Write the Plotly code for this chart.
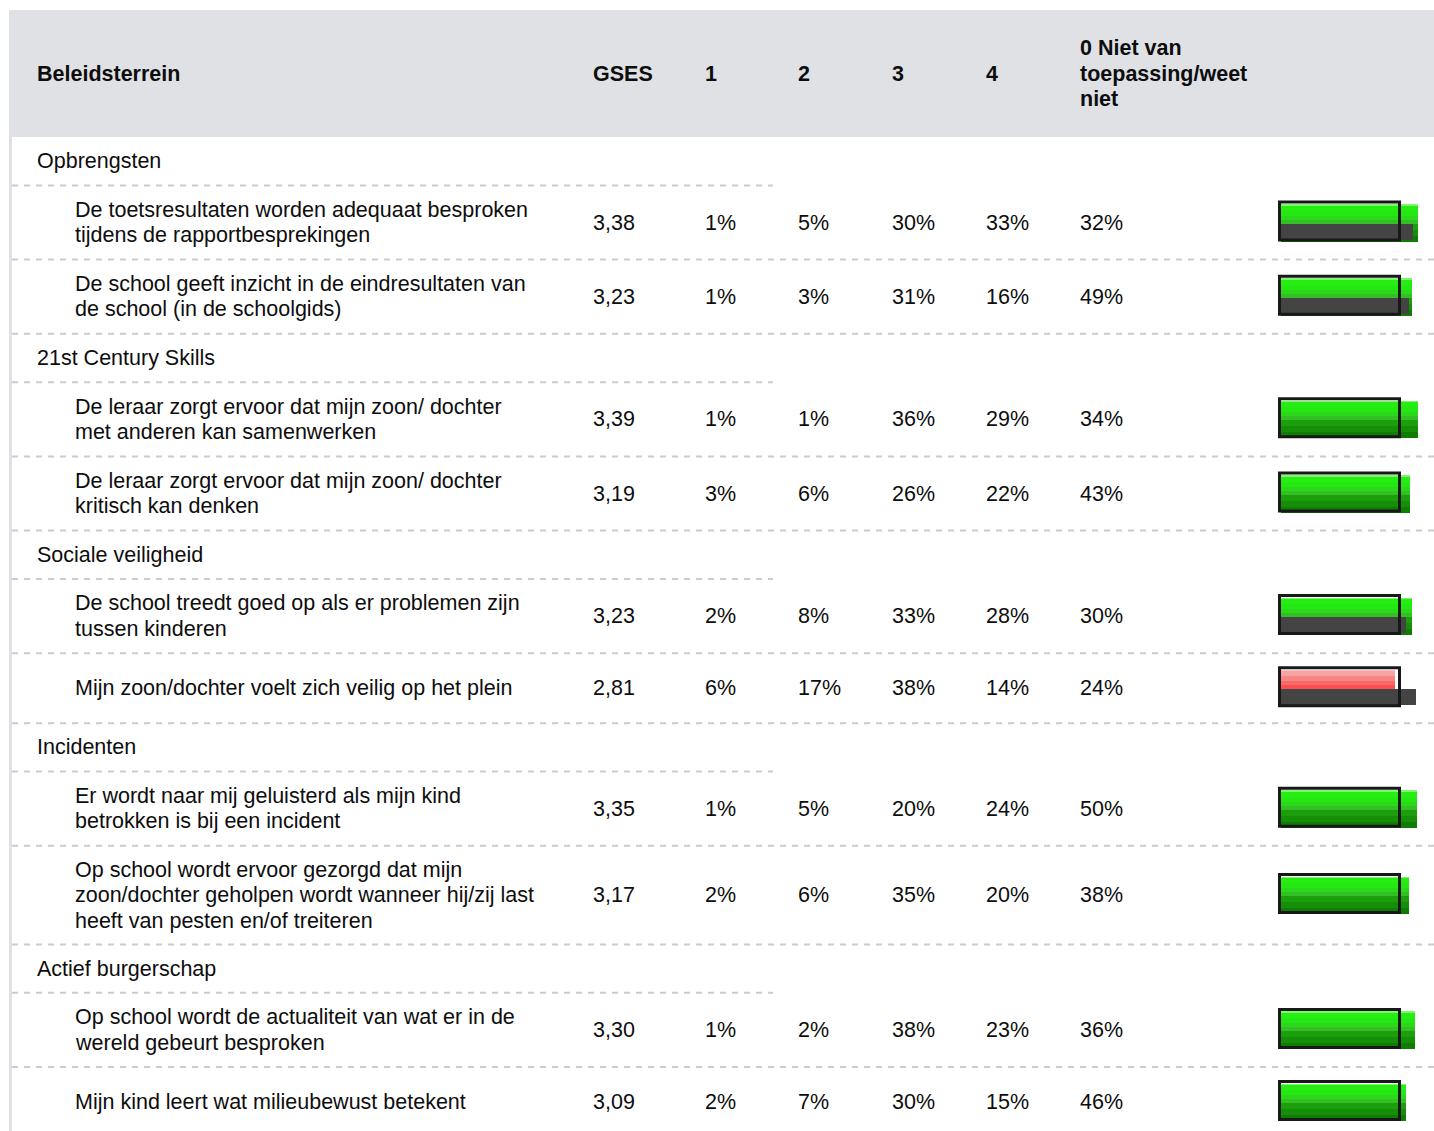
import plotly.graph_objects as go

# ---------------- data ----------------
header_labels = ["Beleidsterrein", "GSES", "1", "2", "3", "4", "0 Niet van<br>toepassing/weet<br>niet"]
categories = ["Opbrengsten", "21st Century Skills", "Sociale veiligheid", "Incidenten", "Actief burgerschap"]
items = [
    "De toetsresultaten worden adequaat besproken<br>tijdens de rapportbesprekingen",
    "De school geeft inzicht in de eindresultaten van<br>de school (in de schoolgids)",
    "De leraar zorgt ervoor dat mijn zoon/ dochter<br>met anderen kan samenwerken",
    "De leraar zorgt ervoor dat mijn zoon/ dochter<br>kritisch kan denken",
    "De school treedt goed op als er problemen zijn<br>tussen kinderen",
    "Mijn zoon/dochter voelt zich veilig op het plein",
    "Er wordt naar mij geluisterd als mijn kind<br>betrokken is bij een incident",
    "Op school wordt ervoor gezorgd dat mijn<br>zoon/dochter geholpen wordt wanneer hij/zij last<br>heeft van pesten en/of treiteren",
    "Op school wordt de actualiteit van wat er in de<br>wereld gebeurt besproken",
    "Mijn kind leert wat milieubewust betekent",
]
item_category = [0, 0, 1, 1, 2, 2, 3, 3, 4, 4]
gses = [3.38, 3.23, 3.39, 3.19, 3.23, 2.81, 3.35, 3.17, 3.30, 3.09]
pct1 = [1, 1, 1, 3, 2, 6, 1, 2, 1, 2]
pct2 = [5, 3, 1, 6, 8, 17, 5, 6, 2, 7]
pct3 = [30, 31, 36, 26, 33, 38, 20, 35, 38, 30]
pct4 = [33, 16, 29, 22, 28, 14, 24, 20, 23, 15]
pct0 = [32, 49, 34, 43, 30, 24, 50, 38, 36, 46]
benchmark = [3.26, 3.16, None, None, 3.09, 3.33, None, None, None, None]
below_benchmark = [False, False, False, False, False, True, False, False, False, False]

# ---------------- layout constants (screen pixels) ----------------
W, H = 1434, 1131
FONT = "Liberation Sans, Arial, Helvetica, sans-serif"
FS = 21.5
TXT = "#0d0d0d"
HEADER_BG = "#dfe1e5"
DASH_COL = "#c8cdd4"
col_x = [37, 593, 705, 798, 892, 986, 1080]
item_x = 75
HEADER_TOP, HEADER_BOT = 10, 137
LEFT_X0, LEFT_X1 = 9, 12
SHORT_END = 773
CAT_H = 48.4
ROW_BASE = 25.4
ROW_LINE = 24.4
ROW_MIN = 70
TEXT_LINE = 25.5
PX_PER_UNIT = 40.5
BAR_X0 = 1281
FRAME_X0, FRAME_X1 = 1279.5, 1399.5

# compute row positions
cat_centers, item_centers, short_lines, long_lines = [], [], [], []
y = HEADER_BOT
last_cat = None
for i, t in enumerate(items):
    c = item_category[i]
    if c != last_cat:
        cat_centers.append(y + CAT_H / 2)
        y += CAT_H
        short_lines.append(y)
        last_cat = c
    nlines = t.count("<br>") + 1
    h = max(ROW_BASE + ROW_LINE * nlines, ROW_MIN)
    item_centers.append(y + h / 2)
    y += h
    long_lines.append(y)

fig = go.Figure()

# glyph bands relative to row centre: (top, bottom, colour ok, colour low)
bands = [
    (-18, -17, "#7ef56e", "#f8c4c4"),
    (-17, -12, "#27ee12", "#f5a3a3"),
    (-12, -7, "#24e811", "#f58686"),
    (-7, -3, "#2bd81a", "#f86a6a"),
    (-3, 1, "#33c024", "#fc4e4e"),
    (1, 7, "#1d9e0d", "#b01818"),
    (7, 13, "#168f08", "#9c1212"),
    (13, 19, "#0f7c04", "#880c0c"),
]
for t, b, c_ok, c_low in bands:
    fig.add_trace(go.Bar(
        orientation="h",
        x=gses,
        y=[ic + (t + b) / 2 for ic in item_centers],
        width=[b - t] * len(gses),
        base=0,
        marker=dict(color=[c_low if lo else c_ok for lo in below_benchmark], line=dict(width=0)),
        xaxis="x2", yaxis="y", showlegend=False, hoverinfo="skip",
    ))
bench_idx = [i for i, v in enumerate(benchmark) if v is not None]
fig.add_trace(go.Bar(
    orientation="h",
    x=[benchmark[i] for i in bench_idx],
    y=[item_centers[i] + 9 for i in bench_idx],
    width=[16] * len(bench_idx),
    base=0,
    marker=dict(color="#444444", line=dict(width=0)),
    xaxis="x2", yaxis="y", showlegend=False, hoverinfo="skip",
))

shapes = []
shapes.append(dict(type="rect", xref="x", yref="y", x0=LEFT_X0, x1=W, y0=HEADER_TOP, y1=HEADER_BOT,
                   fillcolor=HEADER_BG, line=dict(width=0), layer="below"))
shapes.append(dict(type="rect", xref="x", yref="y", x0=LEFT_X0, x1=LEFT_X1, y0=HEADER_TOP, y1=H,
                   fillcolor=HEADER_BG, line=dict(width=0), layer="below"))
for ly in short_lines:
    shapes.append(dict(type="line", xref="x", yref="y", x0=LEFT_X1, x1=SHORT_END, y0=ly, y1=ly,
                       line=dict(color=DASH_COL, width=2, dash="6px,6px"), layer="below"))
for ly in long_lines:
    shapes.append(dict(type="line", xref="x", yref="y", x0=LEFT_X1, x1=W, y0=ly, y1=ly,
                       line=dict(color=DASH_COL, width=2, dash="6px,6px"), layer="below"))
for ic in item_centers:
    shapes.append(dict(type="rect", xref="x", yref="y", x0=FRAME_X0, x1=FRAME_X1, y0=ic - 20.5, y1=ic + 17.5,
                       line=dict(color="#181818", width=3), fillcolor="rgba(0,0,0,0)", layer="above"))

annotations = []
def txt(x, yc, s, bold=False):
    lines = s.split("<br>")
    n = len(lines)
    for j, ln in enumerate(lines):
        yy = yc + (j - (n - 1) / 2) * TEXT_LINE
        annotations.append(dict(x=x, y=yy, xref="x", yref="y", text=f"<b>{ln}</b>" if bold else ln,
                                showarrow=False, xanchor="left", yanchor="middle", align="left",
                                xshift=-2, yshift=0,
                                font=dict(family=FONT, size=FS, color=TXT)))

hy = (HEADER_TOP + HEADER_BOT) / 2
for x, s in zip(col_x, header_labels):
    txt(x, hy, s, bold=True)
for cc, s in zip(cat_centers, categories):
    txt(col_x[0], cc, s)
for i, ic in enumerate(item_centers):
    txt(item_x, ic, items[i])
    txt(col_x[1], ic, f"{gses[i]:.2f}".replace(".", ","))
    for k, arr in enumerate([pct1, pct2, pct3, pct4, pct0]):
        txt(col_x[2 + k], ic, f"{arr[i]}%")

fig.update_layout(
    width=W, height=H,
    margin=dict(l=0, r=0, t=0, b=0),
    paper_bgcolor="white", plot_bgcolor="rgba(0,0,0,0)",
    barmode="overlay", bargap=0,
    xaxis=dict(range=[0, W], domain=[0, 1], visible=False, fixedrange=True),
    xaxis2=dict(range=[0, (W - BAR_X0) / PX_PER_UNIT], domain=[BAR_X0 / W, 1], anchor="y",
                visible=False, fixedrange=True),
    yaxis=dict(range=[H, 0], domain=[0, 1], visible=False, fixedrange=True),
    shapes=shapes, annotations=annotations, showlegend=False,
)
fig.write_html(
    "out.html",
    config={"displayModeBar": False},
    post_script="document.body.style.margin='0';document.body.style.overflow='hidden';",
)
